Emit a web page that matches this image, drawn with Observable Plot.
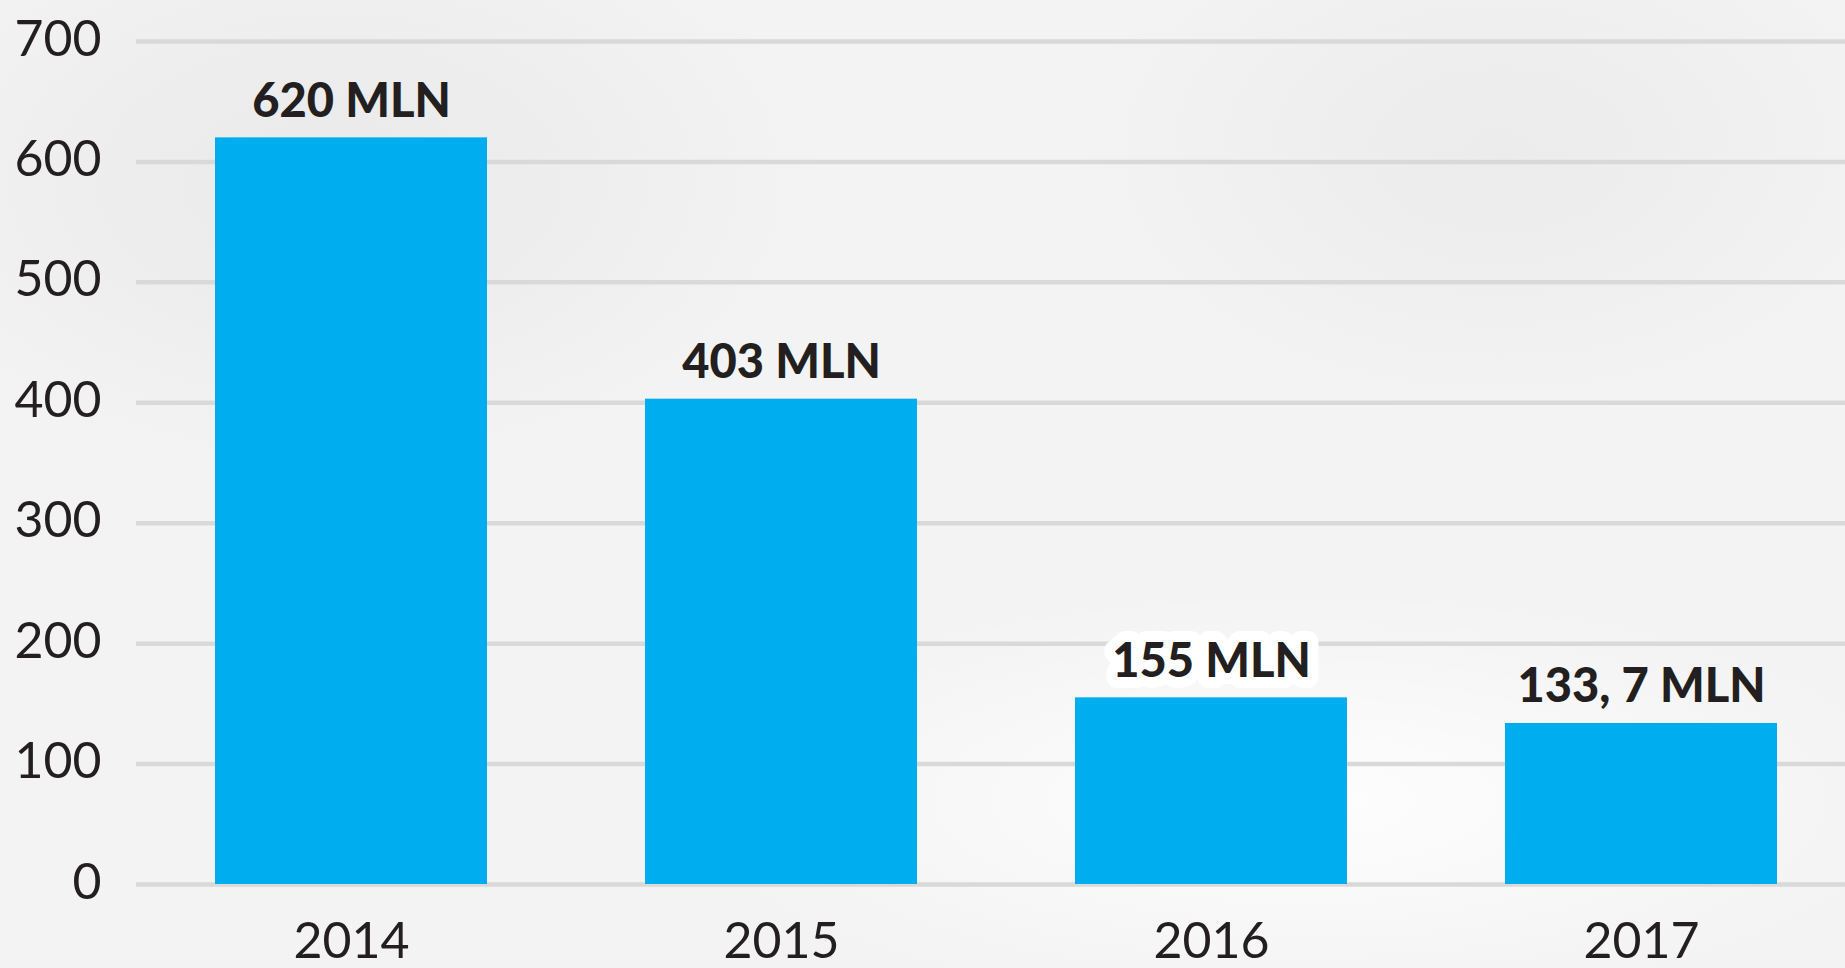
<!DOCTYPE html>
<html>
<head>
<meta charset="utf-8">
<script src="https://cdn.jsdelivr.net/npm/d3@7"></script>
<script src="https://cdn.jsdelivr.net/npm/@observablehq/plot@0.6"></script>
<style>
  html, body { margin: 0; padding: 0; }
  body {
    width: 1845px; height: 968px; overflow: hidden;
    background:
      radial-gradient(ellipse 700px 420px at 330px 180px, rgba(225,225,225,0.55), rgba(225,225,225,0) 70%),
      radial-gradient(ellipse 600px 380px at 1500px 150px, rgba(228,228,228,0.5), rgba(228,228,228,0) 70%),
      radial-gradient(ellipse 900px 300px at 1300px 800px, rgba(255,255,255,0.9), rgba(255,255,255,0) 70%),
      #f3f3f3;
  }
  #chart svg { display: block; }
</style>
</head>
<body>
<div id="chart"></div>
<script>
const years = ["2014", "2015", "2016", "2017"];
const values = [620, 403, 155, 133.7];
const valueLabels = ["620 MLN", "403 MLN", "155 MLN", "133, 7 MLN"];
const yTicks = [0, 100, 200, 300, 400, 500, 600, 700];
const haloYears = ["2016"];

const data = years.map((y, i) => ({year: y, value: values[i], label: valueLabels[i]}));

const chart = Plot.plot({
  width: 1845,
  height: 968,
  marginLeft: 136,
  marginRight: 0,
  marginTop: 41,
  marginBottom: 84,
  style: {background: "transparent", fontFamily: "Lato, sans-serif", color: "#231f20", overflow: "visible"},
  x: {type: "band", domain: years, paddingInner: 0.3682, paddingOuter: 0.169, align: 0.536, label: null},
  y: {domain: [0, 700], ticks: yTicks, label: null},
  marks: [
    Plot.ruleY(yTicks, {stroke: "#d9d9d9", strokeWidth: 4.5}),
    Plot.barY(data, {x: "year", y: "value", fill: "#00aeef"}),
    Plot.axisY({ticks: yTicks, tickSize: 0, tickPadding: 35, fontSize: 50, fill: "#231f20", fontWeight: 400, dy: -2}),
    Plot.axisX({tickSize: 0, tickPadding: 38, fontSize: 50, fill: "#231f20", fontWeight: 400}),
    Plot.text(data.filter(d => haloYears.includes(d.year)), {
      x: "year", y: "value", text: "label", lineAnchor: "bottom", dy: -21,
      fontSize: 47, fontWeight: 900, fill: "white", stroke: "white", strokeWidth: 22, strokeLinejoin: "round"
    }),
    Plot.text(data, {
      x: "year", y: "value", text: "label", lineAnchor: "bottom", dy: -21,
      fontSize: 47, fontWeight: 900, fill: "#231f20"
    })
  ]
});
document.getElementById("chart").appendChild(chart);
</script>
</body>
</html>
